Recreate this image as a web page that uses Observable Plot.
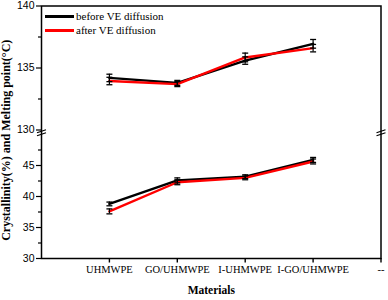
<!DOCTYPE html>
<html>
<head>
<meta charset="utf-8">
<script src="https://cdn.jsdelivr.net/npm/d3@7"></script>
<script src="https://cdn.jsdelivr.net/npm/@observablehq/plot@0.6"></script>
<style>
  html, body { margin: 0; padding: 0; background: #fff; }
  #wrap { position: relative; width: 388px; height: 300px; }
  #legend { position: absolute; left: 45px; top: 9px; font-family: "Liberation Serif", "Times New Roman", serif; font-size: 11px; line-height: 14px; color: #000; }
  #legend .row { display: flex; align-items: center; height: 14px; }
  #legend .sw { width: 29px; height: 3px; margin-right: 2px; }
</style>
</head>
<body>
<div id="wrap"><div id="legend"></div></div>
<script>
// ---- data ----
const categories = ["UHMWPE", "GO/UHMWPE", "I-UHMWPE", "I-GO/UHMWPE"];
const xTickLabels = ["UHMWPE", "GO/UHMWPE", "I-UHMWPE", "I-GO/UHMWPE", "--"];
const seriesNames = ["before VE diffusion", "after VE diffusion"];
const seriesColors = ["#000000", "#ff0000"];

const meltBefore = [134.2, 133.8, 135.6, 136.95];
const meltAfter  = [133.95, 133.7, 135.85, 136.6];
const meltErrBefore = [0.3, 0.2, 0.3, 0.35];
const meltErrAfter  = [0.3, 0.2, 0.35, 0.3];

const crystBefore = [38.8, 42.6, 43.2, 45.9];
const crystAfter  = [37.6, 42.3, 43.0, 45.65];
const crystErrBefore = [0.3, 0.4, 0.3, 0.4];
const crystErrAfter  = [0.4, 0.4, 0.3, 0.4];

const yMajorTicks = [30, 35, 40, 45, 130, 135, 140];
const yMinorTicks = [32.5, 37.5, 42.5, 47.5, 132.5, 137.5];
const yBreak = [50, 130]; // gap in the axis

// ---- build table ----
const rows = [];
function add(vals, errs, series, segment) {
  vals.forEach((v, i) => rows.push({
    x: i + 1, cat: categories[i], y: v, lo: v - errs[i], hi: v + errs[i],
    series, segment, key: series + "|" + segment
  }));
}
add(meltBefore, meltErrBefore, seriesNames[0], "melt");
add(meltAfter, meltErrAfter, seriesNames[1], "melt");
add(crystBefore, crystErrBefore, seriesNames[0], "cryst");
add(crystAfter, crystErrAfter, seriesNames[1], "cryst");

const W = 388, H = 300;
const mL = 41, mR = 7.5, mT = 5.5, mB = 42;
const yBottom = H - mB, yTop = mT;
const half = (yBottom - yTop - 4.5) / 2;

const capSymbol = { draw(ctx) { ctx.moveTo(-3, 0); ctx.lineTo(3, 0); } };
const slashSymbol = { draw(ctx) {
  ctx.moveTo(-4.5, 0.5); ctx.lineTo(4.5, -2.5);
  ctx.moveTo(-4.5, 3.5); ctx.lineTo(4.5, 0.5);
} };
const breakMid = (yBreak[0] + yBreak[1]) / 2;

const serif = "'Liberation Serif', 'Times New Roman', serif";
const sans = "'Liberation Sans', Arial, sans-serif";

const chart = Plot.plot({
  width: W, height: H,
  marginLeft: mL, marginRight: mR, marginTop: mT, marginBottom: mB,
  style: { background: "#fff", color: "#000", overflow: "visible" },
  x: { type: "linear", domain: [0, 5] },
  y: { type: "linear", domain: [30, yBreak[0], yBreak[1], 140],
       range: [yBottom, yBottom - half, yTop + half, yTop] },
  marks: [
    Plot.axisY({ ticks: yMinorTicks, tickSize: 3, text: null, strokeWidth: 1.2, label: null }),
    Plot.axisY({ ticks: yMajorTicks, tickSize: 5, tickPadding: 2, strokeWidth: 1.2,
                 fontFamily: sans, fontSize: 10.5, label: null }),
    Plot.axisX({ ticks: [1, 2, 3, 4, 5], tickSize: 4.5, tickPadding: 3, strokeWidth: 1.4,
                 tickFormat: d => xTickLabels[d - 1], fontFamily: serif, fontSize: 10.5, label: null }),
    Plot.frame({ stroke: "#000", strokeWidth: 1.5 }),
    Plot.dot([0, 5], { x: d => d, y: () => breakMid, symbol: slashSymbol, fill: "none", stroke: "#000", strokeWidth: 1.3 }),
    Plot.line(rows, { x: "x", y: "y", z: "key", stroke: "series", strokeWidth: 2.4 }),
    Plot.ruleX(rows, { x: "x", y1: "lo", y2: "hi", stroke: "#000", strokeWidth: 1.2 }),
    Plot.dot(rows, { x: "x", y: "lo", symbol: capSymbol, fill: "none", stroke: "#000", strokeWidth: 1.3 }),
    Plot.dot(rows, { x: "x", y: "hi", symbol: capSymbol, fill: "none", stroke: "#000", strokeWidth: 1.3 }),
    Plot.text(["Crystallinity(%) and Melting point(°C)"], {
      frameAnchor: "left", rotate: -90, dx: -35.5, dy: 8, text: d => d,
      fontFamily: serif, fontWeight: "bold", fontSize: 12, textAnchor: "middle"
    }),
    Plot.text(["Materials"], {
      frameAnchor: "bottom", dy: 35, text: d => d,
      fontFamily: serif, fontWeight: "bold", fontSize: 11.5
    })
  ],
  color: { domain: seriesNames, range: seriesColors }
});

document.getElementById("wrap").prepend(chart);

const legend = document.getElementById("legend");
seriesNames.forEach((n, i) => {
  const r = document.createElement("div");
  r.className = "row";
  r.innerHTML = `<span class="sw" style="background:${seriesColors[i]}"></span><span>${n}</span>`;
  legend.appendChild(r);
});
</script>
</body>
</html>
